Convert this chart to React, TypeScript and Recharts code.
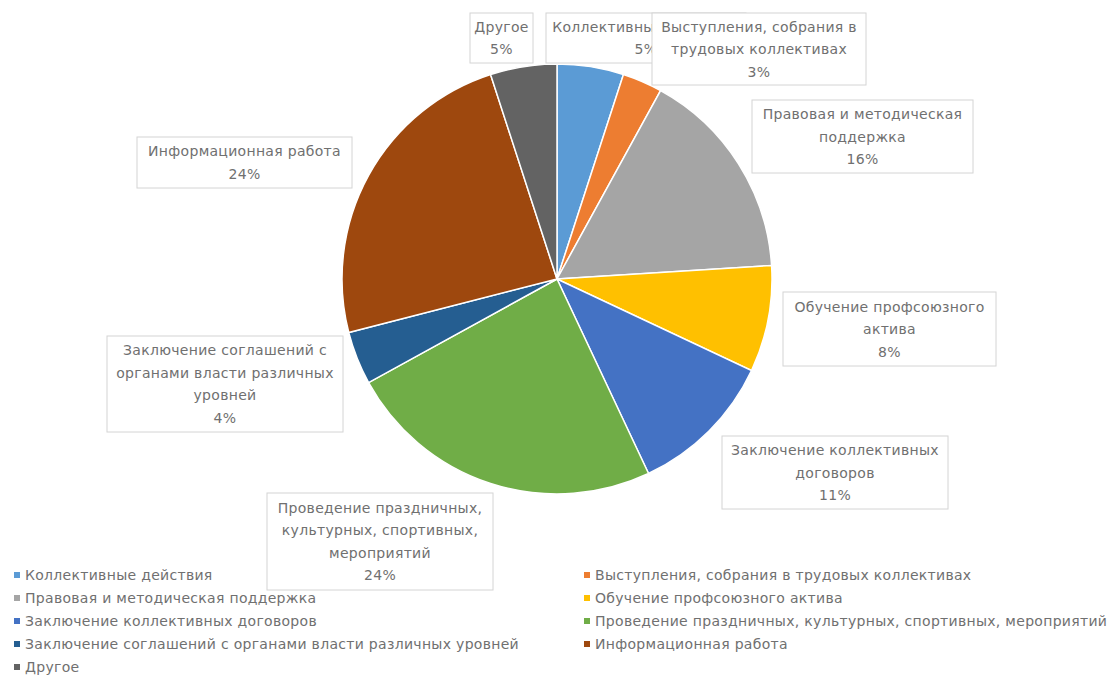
import React from "react";
import { PieChart, Pie, Cell, Legend } from "recharts";

const categories = [
  "Коллективные действия",
  "Выступления, собрания в трудовых коллективах",
  "Правовая и методическая поддержка",
  "Обучение профсоюзного актива",
  "Заключение коллективных договоров",
  "Проведение праздничных, культурных, спортивных, мероприятий",
  "Заключение соглашений с органами власти различных уровней",
  "Информационная работа",
  "Другое",
];

const shares = [5, 3, 16, 8, 11, 24, 4, 24, 5];

// label text as it wraps inside the callout boxes
const labelLines = [
  ["Коллективные действия"],
  ["Выступления, собрания в", "трудовых коллективах"],
  ["Правовая и методическая", "поддержка"],
  ["Обучение профсоюзного", "актива"],
  ["Заключение коллективных", "договоров"],
  ["Проведение праздничных,", "культурных, спортивных,", "мероприятий"],
  ["Заключение соглашений с", "органами власти различных", "уровней"],
  ["Информационная работа"],
  ["Другое"],
];

const colors = [
  "#5B9BD5",
  "#ED7D31",
  "#A5A5A5",
  "#FFC000",
  "#4472C4",
  "#70AD47",
  "#255E91",
  "#9E480E",
  "#636363",
];

// callout boxes (Excel "best fit" placement)
const boxes = [
  { x: 546, y: 13, w: 200, h: 50 },
  { x: 652, y: 13, w: 214, h: 72 },
  { x: 752, y: 100, w: 221, h: 73 },
  { x: 783, y: 292, w: 213, h: 74 },
  { x: 722, y: 436, w: 226, h: 73 },
  { x: 267, y: 493, w: 226, h: 97 },
  { x: 107, y: 336, w: 236, h: 96 },
  { x: 137, y: 137, w: 215, h: 51 },
  { x: 470, y: 13, w: 63, h: 50 },
];

const data = categories.map((name, i) => ({ name, value: shares[i] }));

const FONT = "'DejaVu Sans', sans-serif";
const TEXT = "#707070";
const LINE_H = 22.5;
const FS = 14;
const LS = 0.3;

function renderLabel(props: any) {
  const i = props.index;
  const b = boxes[i];
  const lines = [...labelLines[i], `${shares[i]}%`];
  const top = b.y + (b.h - (lines.length - 1) * LINE_H) / 2;
  const cx = b.x + b.w / 2;
  // the first callout is partly hidden under its neighbour, as in the original
  const clipW = i === 0 ? 106 : b.w;
  return (
    <g key={`lbl-${i}`}>
      <defs>
        <clipPath id={`clip-${i}`}>
          <rect x={b.x} y={b.y} width={clipW} height={b.h} />
        </clipPath>
      </defs>
      <rect x={b.x} y={b.y} width={b.w} height={b.h} fill="#fff" stroke="#d4d4d4" strokeWidth={1} />
      <g clipPath={`url(#clip-${i})`}>
        {lines.map((t, k) => (
          <text
            key={k}
            x={cx}
            y={top + k * LINE_H + 5}
            textAnchor="middle"
            fill={TEXT}
            fontSize={FS}
            letterSpacing={LS}
            fontFamily={FONT}
          >
            {t}
          </text>
        ))}
      </g>
    </g>
  );
}

function LegendBlock() {
  // two columns, filled row by row like Excel
  return (
    <div style={{ position: "relative", width: 1111, height: 120 }}>
      {categories.map((name, i) => {
        const col = i % 2;
        const row = Math.floor(i / 2);
        return (
          <div
            key={name}
            style={{
              position: "absolute",
              left: col === 0 ? 14 : 584,
              top: row * 23,
              display: "flex",
              alignItems: "center",
              fontFamily: FONT,
              fontSize: FS,
              letterSpacing: LS,
              color: TEXT,
              whiteSpace: "nowrap",
              lineHeight: "16px",
            }}
          >
            <span
              style={{
                display: "inline-block",
                width: 6,
                height: 6,
                background: colors[i],
                marginRight: 5,
              }}
            />
            {name}
          </div>
        );
      })}
    </div>
  );
}

export default function App() {
  return (
    <div
      style={{
        position: "absolute",
        left: 0,
        top: 0,
        width: 1111,
        height: 697,
        background: "#fff",
        overflow: "hidden",
      }}
    >
      <PieChart width={1111} height={697} margin={{ top: 0, right: 0, bottom: 0, left: 0 }}>
        <Pie
          data={data}
          dataKey="value"
          nameKey="name"
          cx={557}
          cy={279}
          outerRadius={215}
          startAngle={90}
          endAngle={-270}
          stroke="#fff"
          strokeWidth={1.5}
          label={renderLabel}
          labelLine={false}
          isAnimationActive={false}
        >
          {data.map((d, i) => (
            <Cell key={d.name} fill={colors[i]} />
          ))}
        </Pie>
        <Legend
          content={() => <LegendBlock />}
          wrapperStyle={{ left: 0, top: 567, width: 1111 }}
        />
      </PieChart>
    </div>
  );
}
